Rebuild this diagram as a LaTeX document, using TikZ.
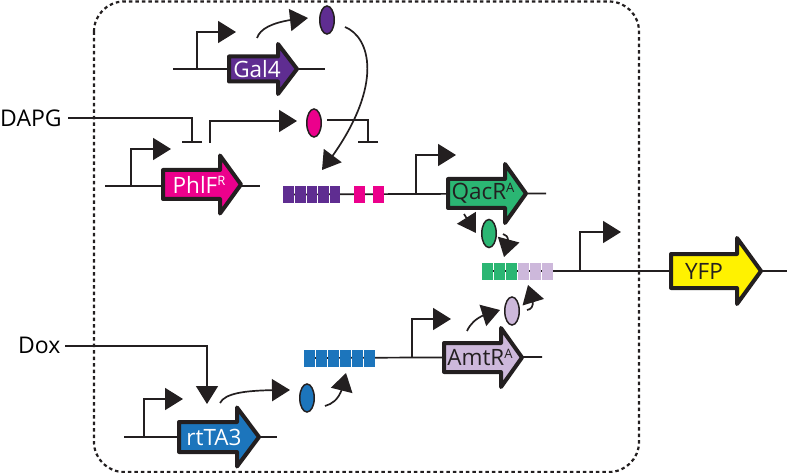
\documentclass[tikz,border=0pt]{standalone}
\usepackage{fontspec}
\setmainfont{Open Sans}
\usetikzlibrary{arrows.meta,shapes.geometric,bending}
\definecolor{ink}{HTML}{231F20}
\definecolor{cpurple}{HTML}{5F2D91}
\definecolor{cmagenta}{HTML}{EC008C}
\definecolor{cgreen}{HTML}{2BB673}
\definecolor{clilac}{HTML}{CDB8DB}
\definecolor{cblue}{HTML}{1C75BC}
\definecolor{cyellow}{HTML}{FFF200}
\tikzset{
  wire/.style={draw=ink,line width=1.7pt},
  act/.style={wire,-{Triangle[length=18pt,width=22pt,flex]}},
  inhib/.style={wire,-{Bar[width=20pt,line width=1.7pt]}},
  genebody/.style={draw=ink,line width=4pt,line join=round},
  genelabel/.style={font=\fontsize{22.5}{22.5}\selectfont,inner sep=0pt,anchor=center},
  prot/.style={ellipse,draw=ink,line width=1.5pt,minimum width=14.5pt,minimum height=28pt,inner sep=0pt},
  site/.style={minimum width=10.5pt,minimum height=17pt,inner sep=0pt,anchor=west},
  inputlabel/.style={font=\fontsize{23}{23}\selectfont,inner sep=0pt},
}
\newcommand\sups[1]{\raisebox{7.5pt}{\fontsize{13}{13}\selectfont #1}}
% \gene{name}{left}{tip}{headstart}{y}{bodyhalf}{headhalf}{fill}{textx}
\newcommand\gene[9]{%
  \filldraw[genebody,fill=#8]
    (#2,#5-#6) -- (#4,#5-#6) -- (#4,#5-#7) -- (#3,#5) -- (#4,#5+#7) -- (#4,#5+#6) -- (#2,#5+#6) -- cycle;
  \node[genelabel] (#1) at (#9,#5) {\GeneText};
}
\begin{document}
\begin{tikzpicture}[x=1pt,y=-1pt]
\useasboundingbox (0,0) rectangle (787,473);
\draw[ink,line width=2.2pt,dash pattern=on 3.5pt off 3pt,rounded corners=30pt] (94,1.5) rectangle (639,472);

% coordinates
\coordinate (galL) at (173,69); \coordinate (galR) at (325,69);
\coordinate (phlL) at (105,186); \coordinate (phlR) at (260,186);
\coordinate (opA) at (283,194.5); \coordinate (qacR) at (546,193.5);
\coordinate (opB) at (482,271); \coordinate (yfpR) at (787,271);
\coordinate (opC) at (304,358); \coordinate (amtR) at (542,357);
\coordinate (rtL) at (124,437); \coordinate (rtR) at (277,437);

% backbones
\draw[wire] (galL) -- (galR);
\draw[wire] (phlL) -- (phlR);
\draw[wire] (opA) -- (qacR);
\draw[wire] (opB) -- (yfpR);
\draw[wire] (opC) -- (amtR);
\draw[wire] (rtL) -- (rtR);

% promoters
\coordinate (pg0) at (197,69); \coordinate (pg1) at (236,32);
\coordinate (pp0) at (131,186); \coordinate (pp1) at (171,149);
\coordinate (pq0) at (416,193.5); \coordinate (pq1) at (456,155);
\coordinate (py0) at (580,271); \coordinate (py1) at (621,232);
\coordinate (pa0) at (412,357); \coordinate (pa1) at (451,319);
\coordinate (pr0) at (144,437); \coordinate (pr1) at (183,399);
\draw[act] (pg0) |- (pg1);
\draw[act] (pp0) |- (pp1);
\draw[act] (pq0) |- (pq1);
\draw[act] (py0) |- (py1);
\draw[act] (pa0) |- (pa1);
\draw[act] (pr0) |- (pr1);

% genes
\def\GeneText{\textcolor{white}{Gal4}}
\gene{gal4}{229}{297}{278}{69}{12.5}{25}{cpurple}{257}
\def\GeneText{\textcolor{white}{PhlF\sups{R}}}
\gene{phlf}{163}{241}{220}{184.5}{14.5}{29}{cmagenta}{199}
\def\GeneText{\textcolor{ink}{QacR\sups{A}}}
\gene{qacr}{448}{526}{505}{193.5}{14.5}{29.5}{cgreen}{483}
\def\GeneText{\textcolor{ink}{YFP}}
\gene{yfp}{671}{761}{737}{271}{17}{33}{cyellow}{704}
\def\GeneText{\textcolor{ink}{AmtR\sups{A}}}
\gene{amtr}{444}{522}{501}{357.5}{14.5}{29.5}{clilac}{480}
\def\GeneText{\textcolor{white}{rtTA3}}
\gene{rtta}{179}{259}{237}{437}{15}{29.5}{cblue}{214}

% operator sites
\foreach \n/\x in {1/283,2/295,3/306.5,4/318,5/329.5}
  \node[site,fill=cpurple] (pu\n) at (\x,194.5) {};
\node[site,fill=cmagenta] (ma1) at (354,194.5) {};
\node[site,fill=cmagenta] (ma2) at (373,194.5) {};
\foreach \n/\x in {1/482,2/494,3/506}
  \node[site,fill=cgreen] (gr\n) at (\x,271) {};
\foreach \n/\x in {1/518,2/530,3/542}
  \node[site,fill=clilac] (li\n) at (\x,271) {};
\foreach \n/\x in {1/304,2/316,3/328,4/340,5/352,6/364}
  \node[site,fill=cblue] (bl\n) at (\x,358) {};

% proteins
\node[prot,fill=cpurple] (ppur) at (327,20) {};
\node[prot,fill=cmagenta] (pmag) at (314,123) {};
\node[prot,fill=cgreen] (pgre) at (489,233.5) {};
\node[prot,fill=clilac] (plil) at (512,311) {};
\node[prot,fill=cblue] (pblu) at (307,398) {};

% inputs
\node[inputlabel,anchor=west] (dapg) at (0,118) {DAPG};
\node[inputlabel,anchor=west] (dox) at (18,345) {Dox};
\coordinate (dapgE) at (192,143);
\coordinate (doxE) at (207,404);
\draw[inhib] (68,118) -| (dapgE);
\draw[act] (65,346) -| (doxE);

% regulation
\coordinate (g4out) at (257,38);
\coordinate (g4tip) at (308,18);
\draw[act] (g4out) .. controls (261,26) and (280,20) .. (g4tip);
\coordinate (p2s) at (345,27);
\coordinate (p2t) at (322,170);
\draw[act] (p2s) .. controls (372,38) and (385,90) .. (p2t);
\coordinate (phs) at (210,143);
\coordinate (pht) at (297,121);
\draw[act] (phs) -- (210,121) -- (pht);
\coordinate (mgs) at (327,120);
\coordinate (mge) at (368,143);
\draw[inhib] (mgs) -| (mge);
\coordinate (rts) at (220,403);
\coordinate (rtt) at (290,390);
\draw[act] (rts) .. controls (226,391) and (255,390) .. (rtt);
\coordinate (bls) at (325,406);
\coordinate (blt) at (346,373);
\draw[act] (bls) .. controls (335,403) and (342,397) .. (blt);
\coordinate (ams) at (467,331);
\coordinate (amt) at (500,310);
\draw[act] (ams) .. controls (472,320) and (482,314) .. (amt);
\coordinate (lis) at (527,310);
\coordinate (lit) at (528,285);
\draw[act] (lis) .. controls (533,309) and (536,304) .. (lit);
\coordinate (qs) at (464,214);
\coordinate (qt) at (476,233);
\draw[act] (qs) -- (qt);
\coordinate (gs) at (503,234);
\coordinate (gt) at (504,257);
\draw[act] (gs) .. controls (508,235) and (511,240) .. (gt);
\end{tikzpicture}
\end{document}
